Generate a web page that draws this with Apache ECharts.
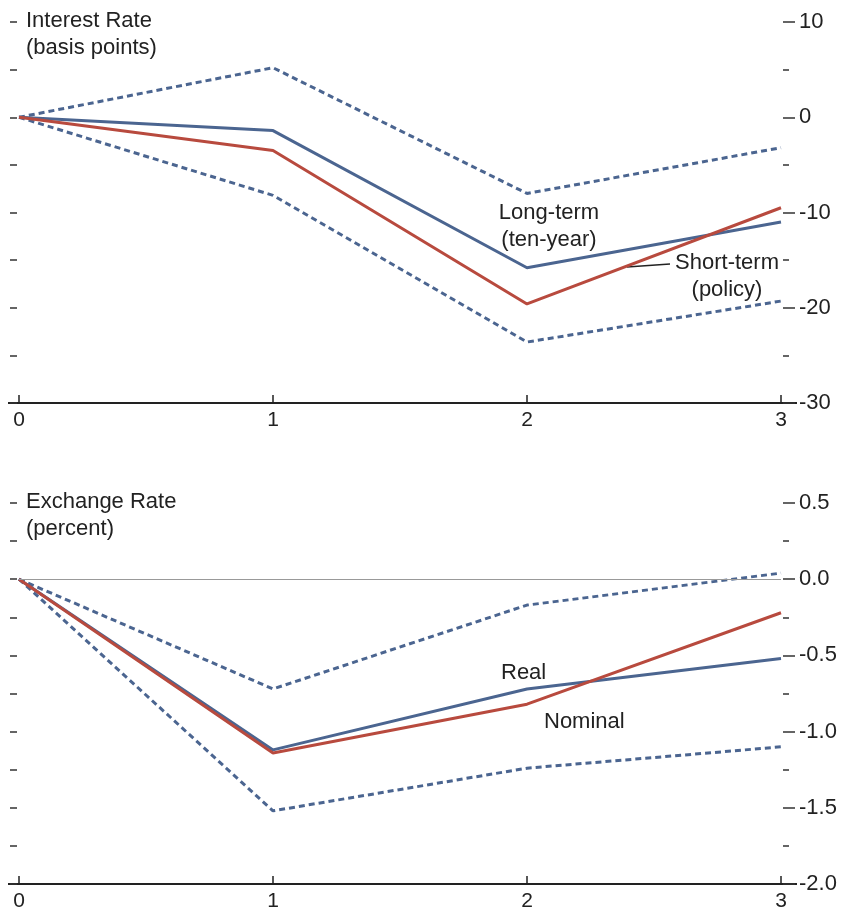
<!DOCTYPE html>
<html><head><meta charset="utf-8">
<script src="https://cdn.jsdelivr.net/npm/echarts@6/dist/echarts.min.js"></script>
<style>html,body{margin:0;padding:0;background:#fff}#c{width:844px;height:914px}</style>
</head><body><div id="c"></div>
<script>
const periods = [0, 1, 2, 3];
const rateLong = [0, -1.4, -15.8, -11.0];
const rateShort = [0, -3.5, -19.6, -9.5];
const rateUpper = [0, 5.2, -8.0, -3.2];
const rateLower = [0, -8.2, -23.6, -19.3];
const fxReal = [0, -1.12, -0.72, -0.52];
const fxNominal = [0, -1.14, -0.82, -0.22];
const fxUpper = [0, -0.72, -0.17, 0.04];
const fxLower = [0, -1.52, -1.24, -1.10];

const BLUE = '#4b6590', RED = '#b84a3e', FONT = 'Liberation Sans';
const TXT = '22px "Liberation Sans"';
const pairs = a => a.map((v, i) => [periods[i], v]);
const chart = echarts.init(document.getElementById('c'));

function xAx(grid){
  return {type:'value', gridIndex:grid, min:0, max:3, interval:1,
    axisLine:{show:true, onZero:false, lineStyle:{color:'#222', width:2}},
    axisTick:{show:true, inside:true, length:8, lineStyle:{color:'#222', width:1.5}},
    axisLabel:{color:'#222', fontSize:21, fontFamily:FONT, margin:7},
    splitLine:{show:false}};
}
function yRight(grid, min, max, interval, fmt){
  return {type:'value', gridIndex:grid, position:'right', offset:2, min, max, interval,
    axisLine:{show:false, onZero:false},
    axisTick:{show:true, length:12, lineStyle:{color:'#333', width:1.5}},
    minorTick:{show:true, splitNumber:2, length:6, lineStyle:{color:'#333', width:1.5}},
    axisLabel:{color:'#222', fontSize:22, fontFamily:FONT, margin:16, align:'left', formatter:fmt},
    splitLine:{show:false}, minorSplitLine:{show:false}};
}
function yLeft(grid, min, max, interval){
  return {type:'value', gridIndex:grid, position:'left', offset:2, min, max, interval,
    axisLine:{show:false, onZero:false},
    axisTick:{show:true, length:7, lineStyle:{color:'#333', width:1.5}},
    axisLabel:{show:false}, splitLine:{show:false}};
}
function line(name, data, xi, yi, color, dashed){
  return {name, type:'line', xAxisIndex:xi, yAxisIndex:yi, data:pairs(data),
    symbol:'none', silent:true, z: dashed ? 2 : 3,
    lineStyle:{color, width:3, type: dashed ? [6,4] : 'solid'}};
}
function label(text, x, y, align){
  return {type:'text', x, y, style:{text, font:TXT, fill:'#222', lineHeight:27,
    align: align || 'left', verticalAlign:'top'}};
}

const zeroLine = {type:'line', xAxisIndex:1, yAxisIndex:2, data:[], silent:true,
  markLine:{silent:true, symbol:'none', label:{show:false},
    lineStyle:{color:'#999', width:1.2, type:'solid'}, data:[{yAxis:0}]}};

chart.setOption({
  animation:false,
  grid:[{left:19, right:63, top:22, height:381},
        {left:19, right:63, top:503, height:381}],
  xAxis:[xAx(0), xAx(1)],
  yAxis:[yRight(0, -30, 10, 10, v => String(v)),
         yLeft(0, -30, 10, 5),
         yRight(1, -2, 0.5, 0.5, v => v.toFixed(1)),
         yLeft(1, -2, 0.5, 0.25)],
  series:[
    line('Upper band', rateUpper, 0, 0, BLUE, true),
    line('Lower band', rateLower, 0, 0, BLUE, true),
    line('Long-term (ten-year)', rateLong, 0, 0, BLUE, false),
    line('Short-term (policy)', rateShort, 0, 0, RED, false),
    zeroLine,
    line('Upper band', fxUpper, 1, 2, BLUE, true),
    line('Lower band', fxLower, 1, 2, BLUE, true),
    line('Real', fxReal, 1, 2, BLUE, false),
    line('Nominal', fxNominal, 1, 2, RED, false)
  ],
  graphic:[
    label('Interest Rate\n(basis points)', 26, 7),
    label('Exchange Rate\n(percent)', 26, 488),
    label('Long-term\n(ten-year)', 549, 199, 'center'),
    label('Short-term\n(policy)', 727, 249, 'center'),
    {type:'line', shape:{x1:627, y1:267, x2:670, y2:264}, style:{stroke:'#222', lineWidth:1.5}},
    label('Real', 501, 659),
    label('Nominal', 544, 708),
    {type:'line', shape:{x1:8, y1:403, x2:797, y2:403}, style:{stroke:'#222', lineWidth:2}},
    {type:'line', shape:{x1:8, y1:884, x2:797, y2:884}, style:{stroke:'#222', lineWidth:2}}
  ]
});
</script></body></html>
